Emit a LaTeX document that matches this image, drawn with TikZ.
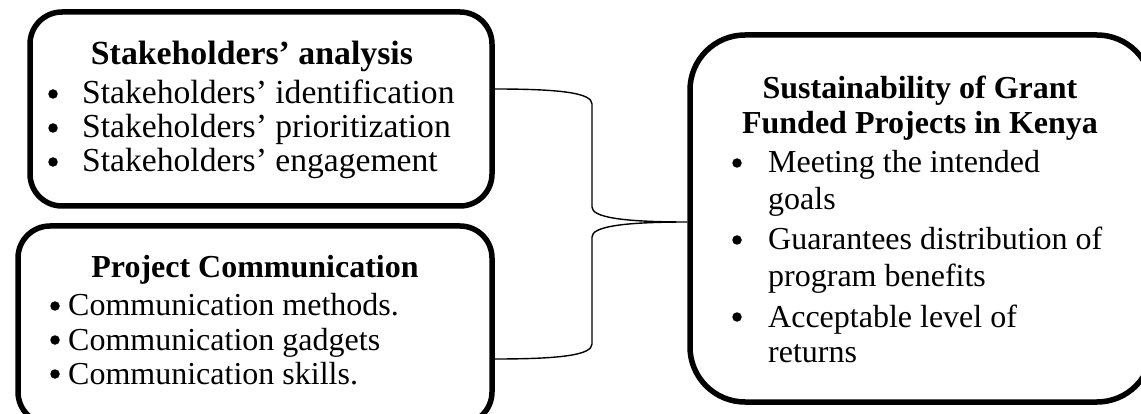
\documentclass[tikz,border=0pt]{standalone}
\usepackage{fontspec}
\setmainfont{Liberation Serif}
\begin{document}
\begin{tikzpicture}[x=1pt,y=-1pt,
  box/.style={draw=black, line width=5.5pt, rounded corners=#1, inner sep=0pt},
  box/.default=32pt,
  txt/.style={inner sep=0pt, anchor=base west, font=\fontsize{32}{34}\selectfont},
  txtL/.style={inner sep=0pt, anchor=base west, font=\fontsize{33.6}{35}\selectfont},
  ttl/.style={inner sep=0pt, anchor=base, font=\fontsize{32}{34}\selectfont\bfseries},
  ttlL/.style={inner sep=0pt, anchor=base, font=\fontsize{33.8}{35}\selectfont\bfseries},
  dot/.style={circle, fill=black, inner sep=0pt, minimum size=9.5pt},
  brace/.style={draw=black, line width=1.4pt}]
\useasboundingbox (0,0) rectangle (1141,414);
\clip (0,0) rectangle (1141,414);

% left boxes and the outcome box
\node[box, minimum width=462pt, minimum height=194pt] (sa) at (261,109) {};
\node[box, minimum width=474pt, minimum height=198pt] (sc) at (255,325) {};
\node[box=55pt, minimum width=462pt, minimum height=367pt] (sus) at (921,218.5) {};

% stakeholders' analysis
\node[ttlL] (saT) at (252,65) {Stakeholders’ analysis};
\node[dot] (saD1) at (53,94) {};
\node[dot] (saD2) at (53,128) {};
\node[dot] (saD3) at (53,162) {};
\node[txtL] (saL1) at (82,104) {Stakeholders’ identification};
\node[txtL] (saL2) at (82,138) {Stakeholders’ prioritization};
\node[txtL] (saL3) at (82,172) {Stakeholders’ engagement};

% project communication
\node[ttl] (scT) at (255,278) {Project Communication};
\node[dot] (scD1) at (55,306) {};
\node[dot] (scD2) at (55,340) {};
\node[dot] (scD3) at (55,374) {};
\node[txt] (scL1) at (68,316) {Communication methods.};
\node[txt] (scL2) at (68,350) {Communication gadgets};
\node[txt] (scL3) at (68,384) {Communication skills.};

% sustainability of grant funded projects
\node[ttl] (susT1) at (920,99) {Sustainability of Grant};
\node[ttl] (susT2) at (920,134) {Funded Projects in Kenya};
\node[dot] (susD1) at (737,163) {};
\node[dot] (susD2) at (737,240) {};
\node[dot] (susD3) at (737,317) {};
\node[txt] (susL1) at (768,173) {Meeting the intended};
\node[txt] (susL1b) at (768,210) {goals};
\node[txt] (susL2) at (768,250) {Guarantees distribution of};
\node[txt] (susL2b) at (768,287) {program benefits};
\node[txt] (susL3) at (768,327) {Acceptable level of};
\node[txt] (susL3b) at (768,362) {returns};

% brace joining both inputs to the outcome
\coordinate (bt) at ([yshift=20pt]sa.east);
\coordinate (bb) at ([yshift=-34pt]sc.east);
\coordinate (tip) at ([yshift=-3.5pt]sus.west);
\draw[brace] (bt) .. controls +(66,0) and +(0,-11) .. (592,104)
  -- (592,207) .. controls +(0,10) and +(-67,0) .. (tip)
  .. controls +(-67,0) and +(0,-10) .. (592,237)
  -- (592,344) .. controls +(0,11) and +(66,0) .. (bb);
\end{tikzpicture}
\end{document}
